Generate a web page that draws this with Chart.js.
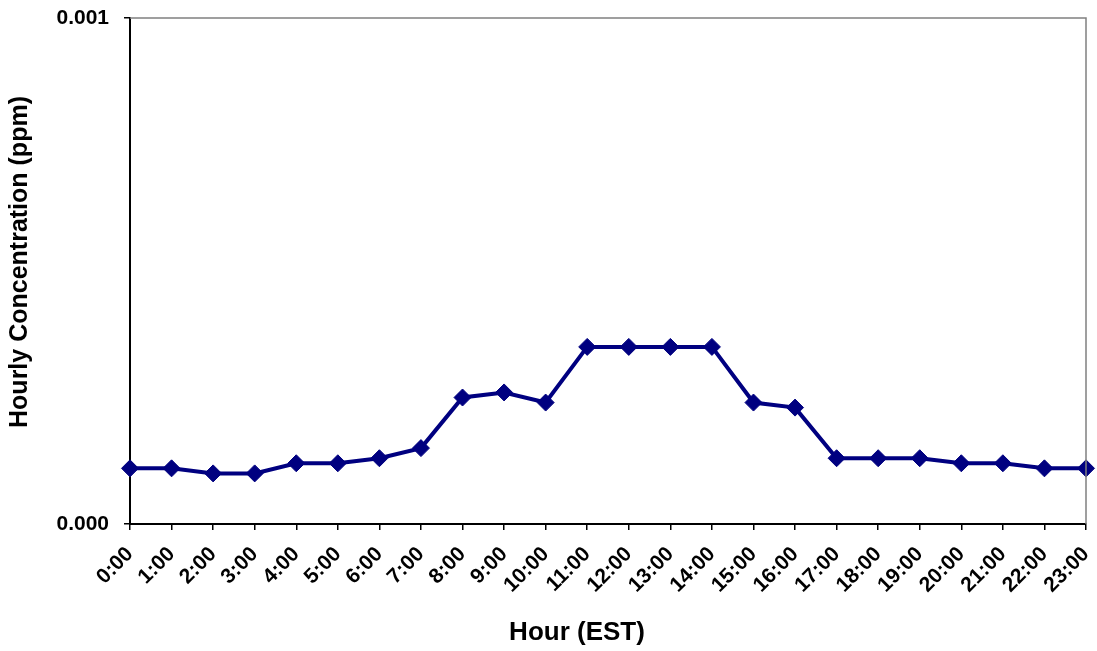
<!DOCTYPE html>
<html>
<head>
<meta charset="utf-8">
<script src="https://cdn.jsdelivr.net/npm/chart.js@4/dist/chart.umd.min.js"></script>
<style>
  html, body { margin: 0; padding: 0; background: #fff; }
  #wrap { width: 1097px; height: 651px; }
</style>
</head>
<body>
<div id="wrap"><canvas id="c" width="1097" height="651"></canvas></div>
<script>
const hours = ["0:00","1:00","2:00","3:00","4:00","5:00","6:00","7:00","8:00","9:00","10:00","11:00",
               "12:00","13:00","14:00","15:00","16:00","17:00","18:00","19:00","20:00","21:00","22:00","23:00"];
const concentration = [0.00011,0.00011,0.00010,0.00010,0.00012,0.00012,0.00013,0.00015,0.00025,0.00026,0.00024,0.00035,
                       0.00035,0.00035,0.00035,0.00024,0.00023,0.00013,0.00013,0.00013,0.00012,0.00012,0.00011,0.00011];
const yMin = 0, yMax = 0.001, yStep = 0.001;
const xTitle = 'Hour (EST)';
const yTitle = 'Hourly Concentration (ppm)';

const FONT = "'Liberation Sans', Arial, sans-serif";

const frame = {
  id: 'frame',
  afterDraw(chart) {
    const a = chart.chartArea, ctx = chart.ctx;
    ctx.save();
    ctx.strokeStyle = '#808080';
    ctx.lineWidth = 1.5;
    ctx.beginPath();
    ctx.moveTo(a.left, a.top);
    ctx.lineTo(a.right, a.top);
    ctx.lineTo(a.right, a.bottom);
    ctx.stroke();
    // axis titles
    ctx.fillStyle = '#000';
    ctx.textAlign = 'center';
    ctx.textBaseline = 'middle';
    ctx.font = "bold 26px " + FONT;
    ctx.fillText(xTitle, 577, 633);
    ctx.translate(20, 262);
    ctx.rotate(-Math.PI / 2);
    ctx.font = "bold 25px " + FONT;
    ctx.fillText(yTitle, 0, 0);
    ctx.restore();
  }
};

new Chart(document.getElementById('c'), {
  type: 'line',
  data: {
    labels: hours,
    datasets: [{
      data: concentration,
      borderColor: '#000080',
      backgroundColor: '#000080',
      borderWidth: 4,
      pointStyle: 'rectRot',
      pointRadius: 8.5,
      pointBorderWidth: 1,
      pointBorderColor: '#000080',
      pointBackgroundColor: '#000080',
      tension: 0,
      clip: false
    }]
  },
  options: {
    responsive: false,
    animation: false,
    devicePixelRatio: 1,
    layout: { padding: { top: 18, right: 11, left: 0, bottom: 0 } },
    plugins: { legend: { display: false }, tooltip: { enabled: false } },
    scales: {
      x: {
        offset: false,
        grid: { drawOnChartArea: false, drawTicks: true, tickLength: 6, color: '#000', lineWidth: 1.5 },
        border: { color: '#000', width: 2 },
        ticks: {
          color: '#000', autoSkip: false, maxRotation: 45, minRotation: 45, padding: 12,
          font: { family: FONT, size: 21, weight: 'bold' }
        },
        title: { display: false },
        afterFit(s) { s.height = 127; s.paddingLeft = 0; s.paddingRight = 0; }
      },
      y: {
        min: yMin, max: yMax,
        grid: { drawOnChartArea: false, drawTicks: true, tickLength: 6, color: '#000', lineWidth: 1.5 },
        border: { color: '#000', width: 2 },
        ticks: {
          stepSize: yStep, color: '#000', padding: 15,
          font: { family: FONT, size: 21, weight: 'bold' },
          callback: v => Number(v).toFixed(3)
        },
        title: { display: false },
        afterFit(s) { s.width = 130; s.paddingTop = 0; s.paddingBottom = 0; }
      }
    }
  },
  plugins: [frame]
});
</script>
</body>
</html>
